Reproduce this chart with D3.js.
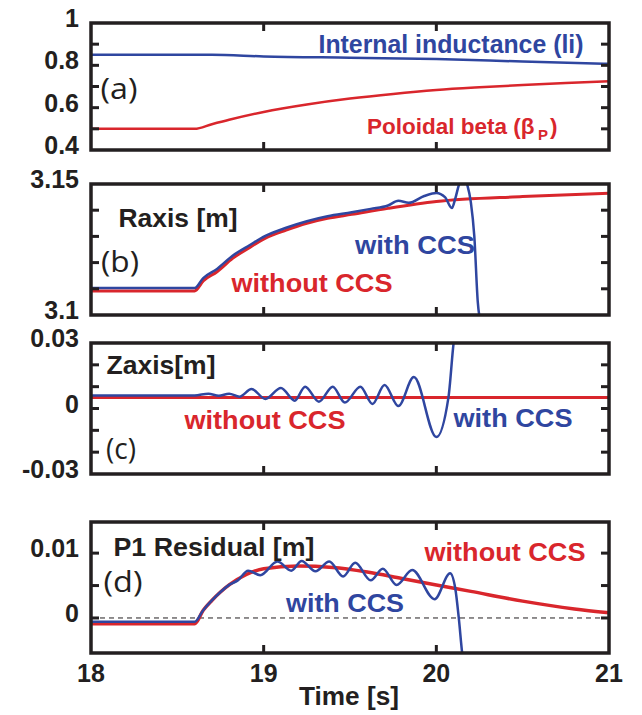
<!DOCTYPE html>
<html>
<head>
<meta charset="utf-8">
<script src="https://cdn.jsdelivr.net/npm/d3@7/dist/d3.min.js"></script>
<style>
	body { margin: 0; background: #fff; }
	svg { display: block; }
	text { font-family: "Liberation Sans", Arial, sans-serif; }
</style>
</head>
<body>
<div id="chart"></div>
<script>
// time axis
var timeTicks = [18, 19, 20, 21];
var innerTimeTicks = [19, 20];

// (a) internal inductance and poloidal beta
var liTime = [18, 18.7, 19.0, 19.5, 20.0, 20.5, 21];
var liValue = [0.85, 0.85, 0.842, 0.836, 0.83, 0.818, 0.807];
var bpTime = [18, 18.6, 18.7, 18.8, 19.0, 19.25, 19.5, 19.75, 20.0, 20.25, 20.5, 20.75, 21];
var bpValue = [0.5, 0.5, 0.522, 0.543, 0.58, 0.615, 0.643, 0.665, 0.683, 0.696, 0.707, 0.717, 0.725];
var aTicks = [0.5, 0.6, 0.7, 0.8, 0.9];
var aTickLabels = [0.4, 0.6, 0.8, 1];

// (b) Raxis
var rNoTime = [18, 18.6, 18.65, 18.73, 18.82, 18.92, 19.01, 19.13, 19.25, 19.37, 19.51, 19.72, 20.0, 20.5, 21];
var rNoValue = [3.1092, 3.1092, 3.113, 3.1165, 3.1216, 3.1258, 3.1293, 3.1324, 3.135, 3.1369, 3.1384, 3.1407, 3.1433, 3.1452, 3.1465];
var rCcsTime = [18, 18.6, 18.65, 18.73, 18.82, 18.92, 19.01, 19.13, 19.25, 19.37, 19.51, 19.62, 19.72, 19.78, 19.84, 19.93, 20.0, 20.05, 20.09, 20.11, 20.13, 20.155, 20.18, 20.2, 20.22, 20.24, 20.26];
var rCcsValue = [3.1103, 3.1103, 3.1141, 3.1176, 3.1226, 3.1267, 3.1302, 3.1333, 3.1358, 3.1377, 3.1392, 3.1405, 3.1418, 3.1436, 3.1428, 3.1454, 3.1466, 3.145, 3.1408, 3.1445, 3.1495, 3.1525, 3.1495, 3.143, 3.13, 3.105, 3.096];
var bTicks = [3.11, 3.12, 3.13, 3.14];
var bTickLabels = [3.1, 3.15];

// (c) Zaxis
var zNoTime = [18, 21];
var zNoValue = [0.005, 0.005];
var zCcsTime = [18, 18.6, 18.68, 18.74, 18.8, 18.86, 18.93, 19.01, 19.1, 19.18, 19.24, 19.32, 19.4, 19.47, 19.56, 19.63, 19.7, 19.78, 19.87, 20.0, 20.07, 20.1, 20.13];
var zCcsValue = [0.006, 0.006, 0.0068, 0.0058, 0.0068, 0.0054, 0.0089, 0.0044, 0.0094, 0.0036, 0.01, 0.0031, 0.01, 0.0027, 0.01, 0.0021, 0.0108, 0.0011, 0.0144, -0.0131, 0.005, 0.03, 0.045];
var cTicks = [-0.02, -0.01, 0, 0.01, 0.02];
var cTickLabels = [-0.03, 0, 0.03];

// (d) P1 residual
var pNoTime = [18, 18.6, 18.65, 18.7, 18.75, 18.8, 18.9, 19.0, 19.2, 19.4, 19.6, 19.8, 20.0, 20.2, 20.5, 20.8, 21];
var pNoValue = [-0.0009, -0.0009, 0.0012, 0.0027, 0.004, 0.0051, 0.0067, 0.0076, 0.008, 0.0078, 0.0071, 0.0061, 0.0051, 0.0041, 0.0026, 0.0014, 0.0008];
var pCcsTime = [18, 18.6, 18.65, 18.7, 18.75, 18.8, 18.85, 18.91, 18.98, 19.08, 19.16, 19.22, 19.3, 19.38, 19.46, 19.53, 19.62, 19.69, 19.77, 19.86, 19.99, 20.08, 20.11, 20.13, 20.15, 20.17];
var pCcsValue = [-0.0006, -0.0006, 0.0012, 0.0027, 0.004, 0.0051, 0.0058, 0.0073, 0.0066, 0.0087, 0.0073, 0.0088, 0.0072, 0.0087, 0.0064, 0.0085, 0.0058, 0.0076, 0.0051, 0.0074, 0.0029, 0.0069, 0.0045, 0, -0.0055, -0.009];
var dTicks = [0, 0.005, 0.01];
var dTickLabels = [0, 0.01];

var BLUE = "#2f46a0";
var RED = "#d9262c";
var INK = "#231f20";

var svg = d3.select("#chart").append("svg")
	.attr("width", 642)
	.attr("height", 715);

var x = d3.scaleLinear().domain([18, 21]).range([91, 609]);

function zip (ts, vs) {
	return ts.map(function (t, i) { return [t, vs[i]]; });
}

function drawPanel (id, top, bottom, domain, ticks, tickLabels, series) {
	var y = d3.scaleLinear().domain(domain).range([bottom, top]);
	var g = svg.append("g").attr("class", "panel-" + id);
	var x0 = x.range()[0], x1 = x.range()[1];

	g.append("clipPath").attr("id", "clip-" + id)
		.append("rect")
		.attr("x", x0).attr("y", top)
		.attr("width", x1 - x0).attr("height", bottom - top);

	var plot = g.append("g").attr("clip-path", "url(#clip-" + id + ")");
	series.forEach(function (s) {
		var line = d3.line()
			.x(function (d) { return x(d[0]); })
			.y(function (d) { return y(d[1]); })
			.curve(d3.curveMonotoneX);
		plot.append("path")
			.attr("d", line(s.data))
			.attr("fill", "none")
			.attr("stroke", s.color)
			.attr("stroke-width", s.width)
			.attr("stroke-dasharray", s.dash || null)
			.attr("stroke-linejoin", "round");
	});

	// inner ticks
	ticks.forEach(function (v) {
		g.append("line").attr("x1", x0).attr("x2", x0 + 8)
			.attr("y1", y(v)).attr("y2", y(v))
			.attr("stroke", INK).attr("stroke-width", 3);
		g.append("line").attr("x1", x1 - 8).attr("x2", x1)
			.attr("y1", y(v)).attr("y2", y(v))
			.attr("stroke", INK).attr("stroke-width", 3);
	});
	innerTimeTicks.forEach(function (t) {
		g.append("line").attr("x1", x(t)).attr("x2", x(t))
			.attr("y1", top).attr("y2", top + 8)
			.attr("stroke", INK).attr("stroke-width", 3);
		g.append("line").attr("x1", x(t)).attr("x2", x(t))
			.attr("y1", bottom - 8).attr("y2", bottom)
			.attr("stroke", INK).attr("stroke-width", 3);
	});

	g.append("rect")
		.attr("x", x0).attr("y", top)
		.attr("width", x1 - x0).attr("height", bottom - top)
		.attr("fill", "none")
		.attr("stroke", INK)
		.attr("stroke-width", 3.5);

	tickLabels.forEach(function (v) {
		g.append("text")
			.attr("x", 79)
			.attr("y", y(v) - 5)
			.attr("text-anchor", "end")
			.attr("dominant-baseline", "central")
			.attr("font-weight", "bold")
			.attr("font-size", 25)
			.attr("fill", INK)
			.text(String(v));
	});
	return g;
}

// label helper, squeezed to the width seen in the figure (width null = natural)
function label (g, str, cx, cy, width, color, bold, size, anchor) {
	var t = g.append("text")
		.attr("x", cx)
		.attr("y", cy)
		.attr("text-anchor", anchor || "middle")
		.attr("dominant-baseline", "central")
		.attr("font-weight", bold ? "bold" : "normal")
		.attr("font-size", size)
		.attr("fill", color)
		.text(str);
	if (width) {
		t.attr("textLength", width).attr("lengthAdjust", "spacingAndGlyphs");
	}
	if (!bold) t.style("font-family", "'Open Sans', sans-serif");
	return t;
}

var ga = drawPanel("a", 23, 150, [0.4, 1.0], aTicks, aTickLabels, [
	{ data: zip(liTime, liValue), color: BLUE, width: 2.5 },
	{ data: zip(bpTime, bpValue), color: RED, width: 2.5 }
]);
label(ga, "Internal inductance (li)", 451, 44, 265, BLUE, true, 25);
label(ga, "(a)", 119, 87, 37, INK, false, 30);
// beta with subscript P, laid out as three pieces at natural width
label(ga, "Poloidal beta (\u03b2", 367, 126, null, RED, true, 22.5, "start");
label(ga, "P", 538, 134, null, RED, true, 15, "start");
label(ga, ")", 550, 126, null, RED, true, 22.5, "start");

var gb = drawPanel("b", 184, 315, [3.1, 3.15], bTicks, bTickLabels, [
	{ data: zip(rNoTime, rNoValue), color: RED, width: 3 },
	{ data: zip(rCcsTime, rCcsValue), color: BLUE, width: 2.5 }
]);
label(gb, "Raxis [m]", 178, 218, 119, INK, true, 26);
label(gb, "(b)", 120, 260, 38, INK, false, 30);
label(gb, "with CCS", 415, 245, 120, BLUE, true, 26);
label(gb, "without CCS", 312, 283, 161, RED, true, 26);

var gc = drawPanel("c", 343, 474, [-0.03, 0.03], cTicks, cTickLabels, [
	{ data: zip(zNoTime, zNoValue), color: RED, width: 3 },
	{ data: zip(zCcsTime, zCcsValue), color: BLUE, width: 2.5 }
]);
label(gc, "Zaxis[m]", 161, 365, 109, INK, true, 26);
label(gc, "(c)", 121, 447, 30, INK, false, 30);
label(gc, "without CCS", 265, 420, 161, RED, true, 26);
label(gc, "with CCS", 513, 418, 119, BLUE, true, 26);

var gd = drawPanel("d", 522, 653, [-0.0054, 0.0148], dTicks, dTickLabels, [
	{ data: [[18, 0], [21, 0]], color: INK, width: 1, dash: "5,4" },
	{ data: zip(pNoTime, pNoValue), color: RED, width: 3.5 },
	{ data: zip(pCcsTime, pCcsValue), color: BLUE, width: 2.5 }
]);
label(gd, "P1 Residual [m]", 214, 547, 201, INK, true, 26);
label(gd, "(d)", 123, 580, 39, INK, false, 30);
label(gd, "without CCS", 505, 552, 161, RED, true, 26);
label(gd, "with CCS", 345, 603, 118, BLUE, true, 26);

// time axis labels under the last panel
timeTicks.forEach(function (t) {
	svg.append("text")
		.attr("x", x(t))
		.attr("y", 673)
		.attr("text-anchor", "middle")
		.attr("dominant-baseline", "central")
		.attr("font-weight", "bold")
		.attr("font-size", 25)
		.attr("fill", INK)
		.text(t);
});
svg.append("text")
	.attr("x", 349)
	.attr("y", 696)
	.attr("text-anchor", "middle")
	.attr("dominant-baseline", "central")
	.attr("font-weight", "bold")
	.attr("font-size", 25)
	.attr("fill", INK)
	.attr("textLength", 100)
	.attr("lengthAdjust", "spacingAndGlyphs")
	.text("Time [s]");
</script>
</body>
</html>
